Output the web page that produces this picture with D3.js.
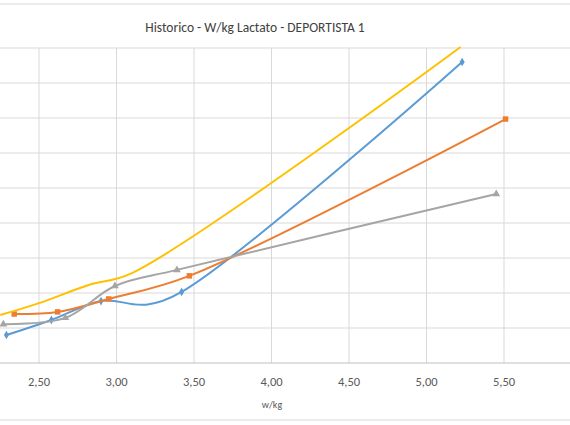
<!DOCTYPE html>
<html><head><meta charset="utf-8">
<script src="https://cdn.jsdelivr.net/npm/d3@7"></script>
<style>body{margin:0;background:#fff}svg{display:block;font-family:Calibri,"Liberation Sans","Open Sans",sans-serif}</style>
</head><body><div id="chart"></div>
<script>
const w = 570, h = 425;

// series (x = w/kg, y = lactate)
const blueX = [2.29, 2.58, 2.90, 3.42, 5.23];
const blueY = [0.80, 1.23, 1.77, 2.03, 8.60];
const orangeX = [2.34, 2.62, 2.95, 3.47, 5.51];
const orangeY = [1.40, 1.46, 1.83, 2.49, 6.97];
const grayX = [2.27, 2.67, 2.99, 3.39, 5.45];
const grayY = [1.11, 1.29, 2.20, 2.66, 4.83];
const yellowX = [2.25, 2.50, 2.82, 3.10, 5.22];
const yellowY = [1.37, 1.71, 2.23, 2.57, 9.03];
const xTicks = [2.5, 3, 3.5, 4, 4.5, 5, 5.5, 6];
const yTicks = [1, 2, 3, 4, 5, 6, 7, 8, 9];

const svg = d3.select("#chart").append("svg")
	.attr("width", w).attr("height", h);

const x = d3.scaleLinear().domain([2, 6]).range([-38.5, 581.5]);
const y = d3.scaleLinear().domain([0, 9]).range([363, 48]);

// outer frame
svg.append("line").attr("x1",0).attr("x2",w).attr("y1",4).attr("y2",4).attr("stroke","#d9d9d9");
svg.append("line").attr("x1",0).attr("x2",w).attr("y1",420).attr("y2",420).attr("stroke","#d9d9d9");

svg.append("g").selectAll("line").data(yTicks).join("line")
	.attr("x1",0).attr("x2",w).attr("y1",d=>y(d)).attr("y2",d=>y(d))
	.attr("stroke","#d9d9d9");
svg.append("g").selectAll("line").data(xTicks).join("line")
	.attr("x1",d=>x(d)).attr("x2",d=>x(d)).attr("y1",y(9)).attr("y2",y(0))
	.attr("stroke","#d9d9d9");
svg.append("line").attr("x1",0).attr("x2",w).attr("y1",y(0)).attr("y2",y(0)).attr("stroke","#bfbfbf");

svg.append("g").selectAll("text").data(xTicks).join("text")
	.attr("x",d=>x(d)).attr("y",386).attr("text-anchor","middle")
	.attr("font-size",12.5).attr("fill","#595959")
	.text(d=>d3.format(".2f")(d).replace(".", ","));

svg.append("text").attr("x",272).attr("y",408).attr("text-anchor","middle")
	.attr("font-size",10).attr("fill","#595959").text("w/kg");
svg.append("text").attr("x",255).attr("y",32).attr("text-anchor","middle")
	.attr("font-size",13.5).attr("fill","#404040").text("Historico - W/kg Lactato - DEPORTISTA 1");

const series = [
	{xs: blueX, ys: blueY, color: "#5b9bd5", mark: d3.symbolDiamond, size: 22, alpha: 0.2},
	{xs: orangeX, ys: orangeY, color: "#ed7d31", mark: d3.symbolSquare, size: 30, alpha: 0.5},
	{xs: grayX, ys: grayY, color: "#a5a5a5", mark: d3.symbolTriangle, size: 26, alpha: 0.5},
	{xs: yellowX, ys: yellowY, color: "#ffc000", mark: null, alpha: 0.5}
];
series.forEach(s => {
	const pts = d3.zip(s.xs, s.ys);
	const line = d3.line().x(d=>x(d[0])).y(d=>y(d[1])).curve(d3.curveCatmullRom.alpha(s.alpha));
	svg.append("path").attr("d", line(pts)).attr("fill","none")
		.attr("stroke", s.color).attr("stroke-width", 2);
	if (s.mark) svg.append("g").selectAll("path").data(pts).join("path")
		.attr("transform", d=>`translate(${x(d[0])},${y(d[1])})`)
		.attr("d", d3.symbol(s.mark, s.size)).attr("fill", s.color);
});
</script></body></html>
